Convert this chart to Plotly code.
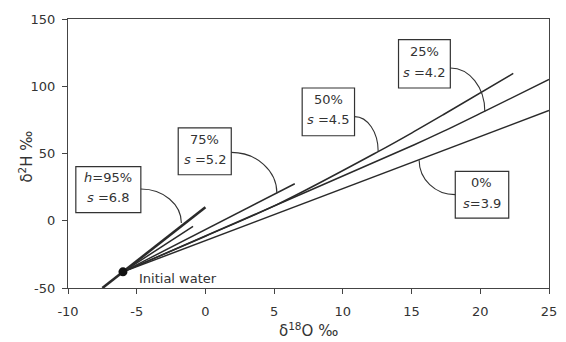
import plotly.graph_objects as go

# ---- data ----
initial_x = [-6]
initial_y = [-38]

gmwl_x = [-7.5, 0]
gmwl_y = [-50, 10]

h95_x = [-6, -0.9]
h95_y = [-38, -4.2]

h75_x = [-6, 6.5]
h75_y = [-38, 27.5]

h50_x = [-6, 0, 5.2, 12.6, 15.2, 17.3, 22.4]
h50_y = [-38, -11.5, 12, 51.6, 66.4, 78.8, 109.5]

h25_x = [-6, 5.2, 15.2, 17.3, 20.3, 25]
h25_y = [-38, 11.9, 56.5, 66.4, 81.3, 105]

h0_x = [-6, 25]
h0_y = [-38, 82]

x_ticks = [-10, -5, 0, 5, 10, 15, 20, 25]
y_ticks = [-50, 0, 50, 100, 150]

labels_top = ["<i>h</i>=95%", "75%", "50%", "25%", "0%"]
labels_bottom = ["<i>s</i> =6.8", "<i>s</i> =5.2", "<i>s</i> =4.5", "<i>s</i> =4.2", "<i>s</i>=3.9"]

# ---- layout helpers (positions in data units) ----
boxes = [(-9.43, -4.70, 6.0, 40.2), (-1.98, 1.88, 34.2, 69.0), (7.04, 10.85, 63.2, 98.7),
         (14.05, 17.82, 98.7, 134.6), (18.18, 22.07, 2.0, 36.7)]
text_pos = [(-7.07, 32.0, 17.1), (-0.05, 60.3, 45.4), (8.95, 90.0, 75.6),
            (15.93, 125.9, 110.3), (20.12, 28.1, 13.2)]
leaders = [((-4.70, 23.6), (-1.75, -1.7)), ((1.88, 50.8), (5.2, 20.5)),
           ((10.85, 77.4), (12.57, 51.6)), ((17.82, 113.6), (20.33, 81.3)),
           ((18.18, 19.4), (15.55, 45.0))]

FONT = "DejaVu Sans"
TXT = "#333333"
LINE = "#2a2a2a"

fig = go.Figure()

def add_line(x, y, width=1.5, shape="linear"):
    fig.add_trace(go.Scatter(x=x, y=y, mode="lines", line=dict(color=LINE, width=width, shape=shape),
                             showlegend=False, hoverinfo="skip"))

add_line(h0_x, h0_y)
add_line(h25_x, h25_y, shape="spline")
add_line(h50_x, h50_y, shape="spline")
add_line(h75_x, h75_y)
add_line(h95_x, h95_y)
add_line(gmwl_x, gmwl_y, width=2.6)

fig.add_trace(go.Scatter(x=initial_x, y=initial_y, mode="markers",
                         marker=dict(color="#111111", size=9), showlegend=False, hoverinfo="skip"))

shapes = []
annotations = []
k = 0.5523
for (x0, x1, y0, y1) in boxes:
    shapes.append(dict(type="rect", xref="x", yref="y", x0=x0, x1=x1, y0=y0, y1=y1,
                       line=dict(color="#333333", width=1.2), fillcolor="white", layer="above"))
for (a, b) in leaders:
    p1 = (a[0] + k * (b[0] - a[0]), a[1])
    p2 = (b[0], b[1] + k * (a[1] - b[1]))
    path = f"M {a[0]},{a[1]} C {p1[0]},{p1[1]} {p2[0]},{p2[1]} {b[0]},{b[1]}"
    shapes.append(dict(type="path", xref="x", yref="y", path=path,
                       line=dict(color="#333333", width=1.1), layer="above"))

for (cx, ya, yb), t1, t2 in zip(text_pos, labels_top, labels_bottom):
    annotations.append(dict(x=cx, y=ya, xref="x", yref="y", text=t1, showarrow=False,
                            font=dict(family=FONT, size=13, color=TXT)))
    annotations.append(dict(x=cx, y=yb, xref="x", yref="y", text=t2, showarrow=False,
                            font=dict(family=FONT, size=13, color=TXT)))

annotations.append(dict(x=-4.99, y=-42.6, xref="x", yref="y", text="Initial water", showarrow=False,
                        xanchor="left", font=dict(family=FONT, size=13, color=TXT)))
annotations.append(dict(x=0.501, y=-0.2, xref="paper", yref="paper",
                        text="δ<sup>18</sup>O ‰", showarrow=False,
                        font=dict(family=FONT, size=15, color=TXT)))
annotations.append(dict(x=-0.112, y=0.489, xref="paper", yref="paper",
                        text="δ<sup>2</sup>H ‰", showarrow=False, textangle=-90,
                        font=dict(family=FONT, size=15, color=TXT)))

axis_common = dict(showgrid=False, zeroline=False, showline=True, linecolor="#444444", linewidth=1.3,
                   mirror=True, ticks="outside", ticklen=5, tickcolor="#444444", tickwidth=1.2,
                   tickfont=dict(family=FONT, size=13, color=TXT))

fig.update_layout(
    width=566, height=342,
    margin=dict(l=68, r=9, t=19, b=54),
    paper_bgcolor="white", plot_bgcolor="white",
    xaxis=dict(range=[-10, 25], tickvals=x_ticks, ticktext=[str(v) for v in x_ticks],
               ticklabelstandoff=6, **axis_common),
    yaxis=dict(range=[-50, 150], tickvals=y_ticks, ticktext=[str(v) for v in y_ticks],
               ticklabelstandoff=4, **axis_common),
    shapes=shapes,
    annotations=annotations,
)

fig.write_html("out.html")
